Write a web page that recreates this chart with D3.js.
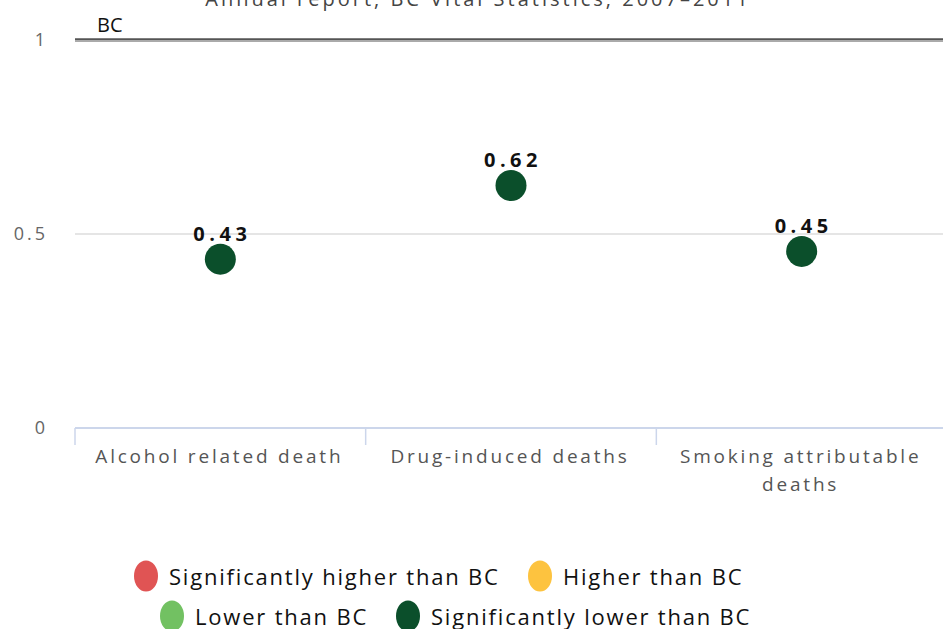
<!DOCTYPE html>
<html><head><meta charset="utf-8">
<script src="https://cdn.jsdelivr.net/npm/d3@7/dist/d3.min.js"></script>
<style>body{margin:0;background:#fff}svg{display:block;font-family:"Open Sans",sans-serif}</style>
</head><body><svg id="c" width="943" height="629"></svg>
<script>
const title = "Annual report, BC Vital Statistics, 2007–2011";
const categories = ["Alcohol related death", "Drug-induced deaths", "Smoking attributable deaths"];
const values = [0.43, 0.62, 0.45];
const pointStatus = [3, 3, 3];
const yTicks = [0, 0.5, 1];
const bcValue = 1;
const legendLabels = ["Significantly higher than BC", "Higher than BC", "Lower than BC", "Significantly lower than BC"];
const legendColors = ["#e05454", "#fdc33f", "#72c162", "#0b4f2b"];

const svg = d3.select("#c");
const L = 75, R = 943, T = 40, B = 428;
const x = d3.scaleBand().domain(categories).range([L, 947]);
const y = d3.scaleLinear().domain([0, 1]).range([B, T]);

svg.append("text").attr("x", 478).attr("y", 6).attr("text-anchor", "middle")
  .attr("font-size", 20).attr("fill", "#444").attr("letter-spacing", 3).text(title);

// gridlines
svg.append("g").selectAll("line").data(yTicks.filter(d => d > 0 && d < 1)).join("line")
  .attr("x1", L).attr("x2", R).attr("y1", d => y(d)).attr("y2", d => y(d))
  .attr("stroke", "#dcdcdc").attr("stroke-width", 1.5);

// y labels
svg.append("g").selectAll("text").data(yTicks).join("text")
  .attr("x", 48).attr("y", d => y(d) + 6).attr("text-anchor", "end")
  .attr("font-size", 18).attr("fill", "#666").attr("letter-spacing", 3)
  .text(d => d3.format("")(d));

// x axis
svg.append("line").attr("x1", L).attr("x2", R).attr("y1", B).attr("y2", B)
  .attr("stroke", "#ccd6eb").attr("stroke-width", 2);
const bounds = categories.map(c => x(c));
svg.append("g").selectAll("line").data(bounds).join("line")
  .attr("x1", d => d).attr("x2", d => d).attr("y1", B).attr("y2", B + 17)
  .attr("stroke", "#ccd6eb").attr("stroke-width", 1.5);

const labelLines = [["Alcohol related death"], ["Drug-induced deaths"], ["Smoking attributable", "deaths"]];
categories.forEach((c, i) => {
  const cxp = x(c) + x.bandwidth() / 2 - 1;
  const t = svg.append("text").attr("x", cxp).attr("y", B + 35)
    .attr("text-anchor", "middle").attr("font-size", 19).attr("fill", "#555").attr("letter-spacing", 2.8);
  labelLines[i].forEach((ln, j) => t.append("tspan").attr("x", cxp).attr("dy", j ? 28 : 0).text(ln));
});

// BC line
svg.append("line").attr("x1", L).attr("x2", R).attr("y1", y(bcValue)).attr("y2", y(bcValue))
  .attr("stroke", "#aaa").attr("stroke-width", 4);
svg.append("line").attr("x1", L).attr("x2", R).attr("y1", y(bcValue) - 0.8).attr("y2", y(bcValue) - 0.8)
  .attr("stroke", "#555").attr("stroke-width", 1.5);
svg.append("text").attr("x", 97).attr("y", y(bcValue) - 8).attr("font-size", 20).attr("fill", "#111").text("BC");

// points
const cx = c => x(c) + x.bandwidth() / 2;
svg.append("g").selectAll("circle").data(categories).join("circle")
  .attr("cx", d => cx(d)).attr("cy", (d, i) => y(values[i]) - 2).attr("r", 15.5)
  .attr("fill", (d, i) => legendColors[pointStatus[i]]);
svg.append("g").selectAll("text").data(categories).join("text")
  .attr("x", d => cx(d) + 2).attr("y", (d, i) => y(values[i]) - 20).attr("text-anchor", "middle")
  .attr("font-size", 20).attr("font-weight", "bold").attr("fill", "#111").attr("letter-spacing", 4.5)
  .text((d, i) => d3.format(".2f")(values[i]));

// legend
const legPos = [[146, 585], [540, 585], [172, 625], [408, 625]];
legendLabels.forEach((lab, i) => {
  const [lx, ly] = legPos[i];
  svg.append("ellipse").attr("cx", lx).attr("cy", ly - 9).attr("rx", 12).attr("ry", 15.5).attr("fill", legendColors[i]);
  svg.append("text").attr("x", lx + 23).attr("y", ly).attr("font-size", 22).attr("fill", "#111").attr("letter-spacing", 1.8).text(lab);
});
</script></body></html>
